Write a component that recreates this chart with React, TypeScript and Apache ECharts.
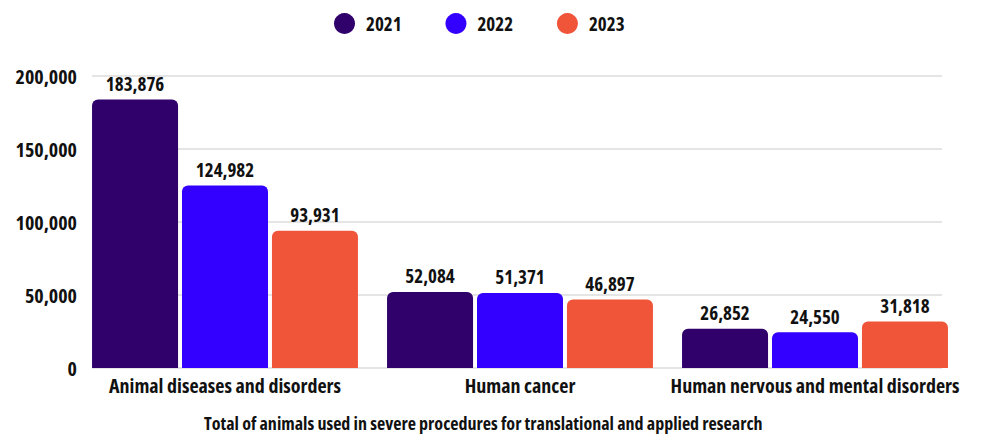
import React, { useEffect, useRef } from "react";
import * as echarts from "echarts";

const categories = [
  "Animal diseases and disorders",
  "Human cancer",
  "Human nervous and mental disorders",
];
const years = ["2021", "2022", "2023"];
const values2021 = [183876, 52084, 26852];
const values2022 = [124982, 51371, 24550];
const values2023 = [93931, 46897, 31818];
const yTicks = [0, 50000, 100000, 150000, 200000];
const colors = ["#30006b", "#3300ff", "#f0553a"];
const caption =
  "Total of animals used in severe procedures for translational and applied research";

const FONT = "'Open Sans', sans-serif";

const fmt = (v: number) => v.toLocaleString("en-US");

export default function App() {
  const ref = useRef<HTMLDivElement>(null);

  useEffect(() => {
    if (!ref.current) return;
    const chart = echarts.init(ref.current, null, { renderer: "svg" });
    const seriesValues = [values2021, values2022, values2023];
    const yMax = yTicks[yTicks.length - 1];
    const yStep = yTicks[1] - yTicks[0];

    const txt = (size: number) => ({
      fontFamily: FONT,
      fontWeight: "bold",
      fontSize: size,
      color: "#111111",
    });

    chart.setOption({
      animation: false,
      backgroundColor: "#ffffff",
      textStyle: { fontFamily: FONT },
      legend: {
        data: years,
        left: 329,
        top: 8,
        icon: "circle",
        itemWidth: 21,
        itemHeight: 21,
        itemGap: 36,
        textStyle: { ...txt(19), padding: [0, 0, 0, 6] },
      },
      grid: [
        // bars and category labels
        {
          left: 77.5,
          right: 22.5,
          top: 76,
          bottom: 80,
          containLabel: false,
          outerBoundsMode: "none",
        },
        // value scale and gridlines
        {
          left: 92,
          right: 43,
          top: 76,
          bottom: 80,
          containLabel: false,
          outerBoundsMode: "none",
        },
      ],
      xAxis: [
        {
          type: "category",
          gridIndex: 0,
          data: categories,
          axisLine: { show: false },
          axisTick: { show: false },
          axisLabel: { interval: 0, margin: 7, ...txt(20) },
        },
        { type: "value", gridIndex: 1, min: 0, max: 1, show: false },
      ],
      yAxis: [
        { type: "value", gridIndex: 0, min: 0, max: yMax, show: false },
        {
          type: "value",
          gridIndex: 1,
          min: 0,
          max: yMax,
          interval: yStep,
          axisLine: { show: false },
          axisTick: { show: false },
          splitLine: { lineStyle: { color: "#dddddd", width: 1.5 } },
          axisLabel: { margin: 15, ...txt(20), formatter: (v: number) => fmt(v) },
        },
      ],
      series: years.map((y, i) => ({
        name: y,
        type: "bar",
        xAxisIndex: 0,
        yAxisIndex: 0,
        data: seriesValues[i],
        barWidth: 86,
        barGap: "4.6%",
        itemStyle: { color: colors[i], borderRadius: [6, 6, 0, 0] },
        label: {
          show: true,
          position: "top",
          distance: 6,
          ...txt(19),
          formatter: (p: any) => fmt(p.value),
        },
      })),
      graphic: [
        {
          type: "text",
          left: 204,
          top: 414,
          style: { text: caption, fontFamily: FONT, fontWeight: "bold", fontSize: 18, fill: "#111111" },
        },
      ],
    });

    return () => chart.dispose();
  }, []);

  return (
    <div style={{ margin: -8 }}>
      {/* narrow cut of the font for every chart text */}
      <style>{"#root svg text { font-stretch: 75% !important; }"}</style>
      <div ref={ref} style={{ width: 985, height: 448 }} />
    </div>
  );
}
